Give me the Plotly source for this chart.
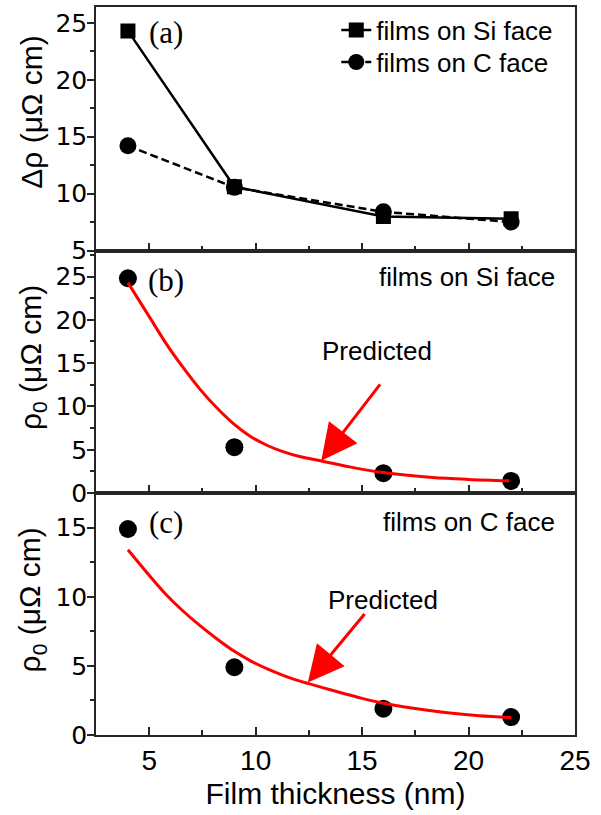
import plotly.graph_objects as go
from plotly.subplots import make_subplots

# Film thickness of the measured samples (nm)
thickness = [4, 9, 16, 22]

# (a) Delta rho for films on the two SiC faces (uOhm cm)
drho_si = [24.3, 10.6, 8.0, 7.8]
drho_c = [14.2, 10.55, 8.4, 7.5]

# (b), (c) residual resistivity rho0 (uOhm cm)
rho0_si = [24.8, 5.3, 2.3, 1.4]
rho0_c = [14.9, 4.9, 1.9, 1.3]

# Predicted rho0 curves
pred_si_x = [4, 5.03, 5.81, 6.59, 7.38, 8.16, 8.94, 9.72, 10.5, 11.28, 12.06, 13.08, 14.41, 15.97, 18.31, 20, 21.91]
pred_si_y = [24.3, 20.25, 17.2, 14.5, 12.0, 9.87, 8.05, 6.6, 5.55, 4.78, 4.22, 3.7, 3.02, 2.37, 1.8, 1.58, 1.42]
pred_c_x = [4, 5, 5.8, 6.6, 7.4, 8.2, 9, 9.8, 10.6, 11.5, 12.45, 13.5, 15, 16, 17.4, 18.9, 20.5, 22]
pred_c_y = [13.4, 11.55, 10.15, 8.95, 7.89, 6.93, 6.05, 5.33, 4.74, 4.19, 3.73, 3.27, 2.65, 2.3, 1.93, 1.63, 1.4, 1.27]

x_ticks = [5, 10, 15, 20, 25]

SANS = "Liberation Sans, Arial, sans-serif"
WIDE_SANS = "DejaVu Sans, Verdana, sans-serif"
SERIF = "Liberation Serif, Times New Roman, serif"
AXIS_COLOR = "#262626"

fig = make_subplots(rows=3, cols=1, shared_xaxes=True, vertical_spacing=0,
                    row_heights=[244.3, 243.3, 242.7])

# (a)
fig.add_trace(go.Scatter(x=thickness, y=drho_si, mode="lines+markers",
                         name="films on Si face", legend="legend",
                         line=dict(color="black", width=2.5),
                         marker=dict(symbol="square", size=15, color="black")),
              row=1, col=1)
fig.add_trace(go.Scatter(x=thickness, y=drho_c, mode="lines+markers",
                         name="films on C face", legend="legend2",
                         line=dict(color="black", width=2.5, dash="8px,4px"),
                         marker=dict(symbol="circle", size=17, color="black")),
              row=1, col=1)

# (b)
fig.add_trace(go.Scatter(x=thickness, y=rho0_si, mode="markers", showlegend=False,
                         marker=dict(symbol="circle", size=18, color="black")),
              row=2, col=1)
fig.add_trace(go.Scatter(x=pred_si_x, y=pred_si_y, mode="lines", showlegend=False,
                         line=dict(color="#ff0000", width=3, shape="spline", smoothing=0.9)),
              row=2, col=1)

# (c)
fig.add_trace(go.Scatter(x=thickness, y=rho0_c, mode="markers", showlegend=False,
                         marker=dict(symbol="circle", size=18, color="black")),
              row=3, col=1)
fig.add_trace(go.Scatter(x=pred_c_x, y=pred_c_y, mode="lines", showlegend=False,
                         line=dict(color="#ff0000", width=3, shape="spline", smoothing=0.9)),
              row=3, col=1)

y_ranges = [[5, 26.4], [0, 28], [0, 17.5]]
for i in range(1, 4):
    fig.update_xaxes(range=[2.5, 25], tickvals=x_ticks, ticks="inside", ticklen=8,
                     tickwidth=1.5, tickcolor=AXIS_COLOR,
                     minor=dict(dtick=2.5, ticks="inside", ticklen=5, tickwidth=1.5,
                                tickcolor=AXIS_COLOR, showgrid=False),
                     showline=True, linecolor=AXIS_COLOR, linewidth=1.5, mirror=True,
                     showgrid=False, zeroline=False,
                     showticklabels=(i == 3),
                     tickfont=dict(family=SANS, size=28, color="black"),
                     row=i, col=1)
    fig.update_yaxes(range=y_ranges[i - 1], dtick=5, tick0=0, ticks="outside", ticklen=7,
                     tickwidth=1.5, tickcolor=AXIS_COLOR,
                     minor=dict(dtick=2.5, tick0=0, ticks="outside", ticklen=4, tickwidth=1.5,
                                tickcolor=AXIS_COLOR, showgrid=False),
                     showline=True, linecolor=AXIS_COLOR, linewidth=1.5, mirror=True,
                     showgrid=False, zeroline=False, ticklabelstandoff=-5,
                     tickfont=dict(family=WIDE_SANS, size=25, color="black"),
                     row=i, col=1)

fig.update_xaxes(title=dict(text="Film thickness (nm)", font=dict(family=SANS, size=30, color="black"),
                            standoff=8), row=3, col=1)

annotations = []
# y-axis titles
for text, yp in [("Δρ (μΩ cm)", 0.8558), ("ρ<sub>0</sub> (μΩ cm)", 0.519), ("ρ<sub>0</sub> (μΩ cm)", 0.186)]:
    annotations.append(dict(text=text, xref="paper", yref="paper", x=-0.134, y=yp,
                            xanchor="center", yanchor="middle", textangle=-90, showarrow=False,
                            font=dict(family=SANS, size=30, color="black")))
# panel letters
for text, yp in [("(a)", 0.965), ("(b)", 0.624), ("(c)", 0.2917)]:
    annotations.append(dict(text=text, xref="paper", yref="paper", x=0.146, y=yp,
                            xanchor="center", yanchor="middle", showarrow=False,
                            font=dict(family=SERIF, size=31, color="black")))
# face labels
for text, yp in [("films on Si face", 0.6285), ("films on C face", 0.293)]:
    annotations.append(dict(text=text, xref="paper", yref="paper", x=0.9634, y=yp,
                            xanchor="right", yanchor="middle", showarrow=False,
                            font=dict(family=SANS, size=26, color="black")))
# predicted-curve labels and arrows
for xp, yp in [(0.587, 0.527), (0.600, 0.186)]:
    annotations.append(dict(text="Predicted", xref="paper", yref="paper", x=xp, y=yp,
                            xanchor="center", yanchor="middle", showarrow=False,
                            font=dict(family=SANS, size=26, color="black")))
annotations.append(dict(x=13.08, y=3.72, xref="x2", yref="y2", ax=60, ay=-78, text="",
                        showarrow=True, arrowhead=2, arrowsize=2.4, arrowwidth=3,
                        arrowcolor="#ff0000"))
annotations.append(dict(x=12.45, y=3.8, xref="x3", yref="y3", ax=58, ay=-70, text="",
                        showarrow=True, arrowhead=2, arrowsize=2.4, arrowwidth=3,
                        arrowcolor="#ff0000"))

legend_style = dict(xanchor="left", yanchor="top", bgcolor="rgba(0,0,0,0)",
                    font=dict(family=SANS, size=26, color="black"), itemwidth=30)

fig.update_layout(
    width=601, height=815,
    margin=dict(l=96, r=26, t=5, b=80),
    paper_bgcolor="white", plot_bgcolor="white",
    font=dict(family=SANS, color="black"),
    annotations=annotations,
    legend=dict(x=0.5016, y=1.0004, **legend_style),
    legend2=dict(x=0.5016, y=0.9566, **legend_style),
)

fig.write_html("out.html")
